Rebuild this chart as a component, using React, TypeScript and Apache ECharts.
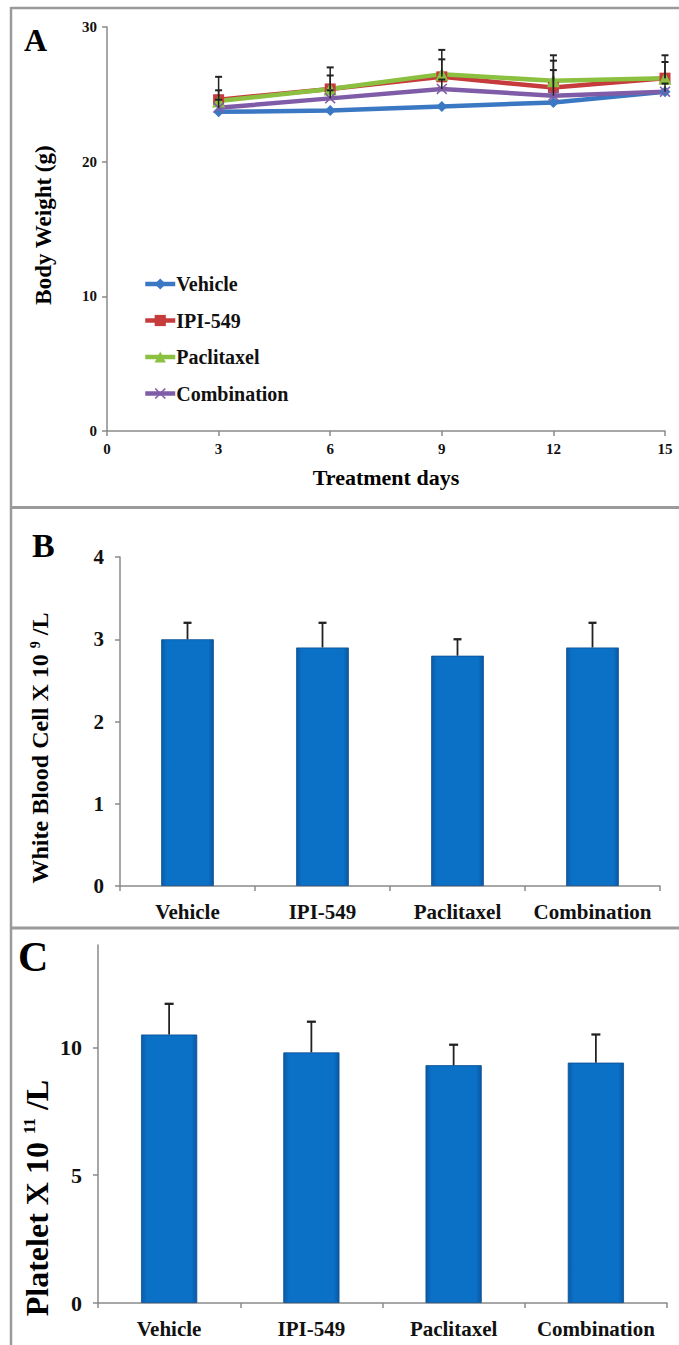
import React, { useEffect, useRef } from "react";
import * as echarts from "echarts";

const FONT = "'Liberation Serif', 'Times New Roman', serif";

// Panel A: body weight over treatment days
const days = [3, 6, 9, 12, 15];
const vehicleWeight = [23.7, 23.8, 24.1, 24.4, 25.2];
const ipiWeight = [24.6, 25.4, 26.3, 25.5, 26.2];
const paclitaxelWeight = [24.5, 25.4, 26.5, 26.0, 26.2];
const combinationWeight = [24.0, 24.7, 25.4, 24.9, 25.2];
const ipiWeightErr = [1.7, 1.6, 2.0, 2.4, 1.7];
const paclitaxelWeightErr = [0.8, 1.0, 1.1, 1.5, 1.2];
const combinationWeightErr = [0.6, 0.6, 0.7, 1.9, 0.6];
const seriesNames = ["Vehicle", "IPI-549", "Paclitaxel", "Combination"];
const seriesColors = ["#3B78C3", "#C63B3B", "#8BC040", "#7F5CA8"];

// Panel B / C: blood counts
const categories = ["Vehicle", "IPI-549", "Paclitaxel", "Combination"];
const wbcValues = [3.0, 2.9, 2.8, 2.9];
const wbcErrors = [0.2, 0.3, 0.2, 0.3];
const plateletValues = [10.5, 9.8, 9.3, 9.4];
const plateletErrors = [1.2, 1.2, 0.8, 1.1];

const xSymbol =
  "path://M0,1 L1,0 L5,4 L9,0 L10,1 L6,5 L10,9 L9,10 L5,6 L1,10 L0,9 L4,5 Z";
const symbols = ["diamond", "rect", "triangle", xSymbol];

function errRender(capHalf: number, width: number) {
  return (params: any, api: any) => {
    const x = api.value(0);
    const y = api.value(1);
    const e = api.value(2);
    const p0 = api.coord([x, y]);
    const p1 = api.coord([x, y + e]);
    return {
      type: "group",
      children: [
        {
          type: "line",
          shape: { x1: p0[0], y1: p0[1], x2: p1[0], y2: p1[1] },
          style: { stroke: "#222", lineWidth: width },
        },
        {
          type: "line",
          shape: { x1: p1[0] - capHalf, y1: p1[1], x2: p1[0] + capHalf, y2: p1[1] },
          style: { stroke: "#222", lineWidth: width + 0.5 },
        },
      ],
    };
  };
}

const axisLine = { show: true, lineStyle: { color: "#8a8a8a", width: 1.5 } };
const axisTick = { show: true, inside: false, length: 5, lineStyle: { color: "#8a8a8a", width: 1.5 } };
const lbl = (size: number, margin: number) => ({
  fontFamily: FONT,
  fontWeight: "bold",
  fontSize: size,
  color: "#111",
  margin,
});

export default function App() {
  const ref = useRef<HTMLDivElement>(null);
  useEffect(() => {
    if (!ref.current) return;
    const chart = echarts.init(ref.current, null, { renderer: "svg" });
    const barColor = new echarts.graphic.LinearGradient(0, 0, 1, 0, [
      { offset: 0, color: "#0C5BA6" },
      { offset: 0.1, color: "#0A71C7" },
      { offset: 0.9, color: "#0A71C7" },
      { offset: 1, color: "#0B58A2" },
    ]);
    const weights = [vehicleWeight, ipiWeight, paclitaxelWeight, combinationWeight];
    const lineSeries = weights.map((w, k) => ({
      name: seriesNames[k],
      type: "line",
      xAxisIndex: 0,
      yAxisIndex: 0,
      data: days.map((d, i) => [d, w[i]]),
      symbol: symbols[k],
      symbolSize: k === 2 ? 13 : 11,
      lineStyle: { width: 4.5, color: seriesColors[k] },
      itemStyle: { color: seriesColors[k] },
      z: 3,
    }));
    const weightErrs = [
      [ipiWeight, ipiWeightErr],
      [paclitaxelWeight, paclitaxelWeightErr],
      [combinationWeight, combinationWeightErr],
    ];
    const errSeriesA = weightErrs.map(([v, e]) => ({
      type: "custom",
      coordinateSystem: "cartesian2d",
      xAxisIndex: 0,
      yAxisIndex: 0,
      renderItem: errRender(3.5, 1.5),
      data: days.map((d, i) => [d, v[i], e[i]]),
      encode: { x: 0, y: 1 },
      z: 4,
    }));

    const option: any = {
      animation: false,
      backgroundColor: "#ffffff",
      grid: [
        { left: 107, right: 14, top: 27, bottom: 914, outerBoundsMode: "none" },
        { left: 120, right: 19, top: 557, bottom: 459, outerBoundsMode: "none" },
        { left: 98, right: 12, top: 945, bottom: 42, outerBoundsMode: "none" },
      ],
      legend: {
        data: seriesNames,
        orient: "vertical",
        left: 138,
        top: 269,
        itemWidth: 30,
        itemHeight: 14,
        itemGap: 16.5,
        lineStyle: { width: 4.5 },
        textStyle: { fontFamily: FONT, fontWeight: "bold", fontSize: 20, color: "#111", lineHeight: 20, padding: [0, 0, 0, -4] },
      },
      xAxis: [
        {
          gridIndex: 0,
          type: "value",
          min: 0,
          max: 15,
          interval: 3,
          axisLine,
          axisTick,
          splitLine: { show: false },
          axisLabel: lbl(15, 10),
        },
        {
          gridIndex: 1,
          type: "category",
          data: categories,
          axisLine,
          axisTick: { ...axisTick, alignWithLabel: false, interval: 0 },
          splitLine: { show: false },
          axisLabel: { ...lbl(21, 15), interval: 0 },
        },
        {
          gridIndex: 2,
          type: "category",
          data: categories,
          axisLine,
          axisTick: { ...axisTick, alignWithLabel: false, interval: 0 },
          splitLine: { show: false },
          axisLabel: { ...lbl(21, 15), interval: 0 },
        },
      ],
      yAxis: [
        {
          gridIndex: 0,
          type: "value",
          min: 0,
          max: 30,
          interval: 10,
          axisLine,
          axisTick,
          splitLine: { show: false },
          axisLabel: lbl(15, 10),
        },
        {
          gridIndex: 1,
          type: "value",
          min: 0,
          max: 4,
          interval: 1,
          axisLine,
          axisTick,
          splitLine: { show: false },
          axisLabel: lbl(21, 16),
        },
        {
          gridIndex: 2,
          type: "value",
          min: 0,
          max: 14,
          interval: 5,
          axisLine,
          axisTick: { ...axisTick, customValues: [0, 5, 10] },
          splitLine: { show: false },
          axisLabel: { ...lbl(22, 16), customValues: [0, 5, 10] },
        },
      ],
      series: [
        ...lineSeries,
        ...errSeriesA,
        {
          type: "bar",
          xAxisIndex: 1,
          yAxisIndex: 1,
          data: wbcValues,
          barWidth: "39%",
          itemStyle: { color: barColor, borderColor: "#0B4F93", borderWidth: 0.8 },
        },
        {
          type: "custom",
          coordinateSystem: "cartesian2d",
          xAxisIndex: 1,
          yAxisIndex: 1,
          renderItem: errRender(4, 1.8),
          data: categories.map((c, i) => [i, wbcValues[i], wbcErrors[i]]),
          encode: { x: 0, y: 1 },
          z: 4,
        },
        {
          type: "bar",
          xAxisIndex: 2,
          yAxisIndex: 2,
          data: plateletValues,
          barWidth: "39.5%",
          itemStyle: { color: barColor, borderColor: "#0B4F93", borderWidth: 0.8 },
        },
        {
          type: "custom",
          coordinateSystem: "cartesian2d",
          xAxisIndex: 2,
          yAxisIndex: 2,
          renderItem: errRender(4.5, 1.8),
          data: categories.map((c, i) => [i, plateletValues[i], plateletErrors[i]]),
          encode: { x: 0, y: 1 },
          z: 4,
        },
      ],
      graphic: [
        // panel frames
        { type: "line", shape: { x1: 11, y1: 8, x2: 679, y2: 8 }, style: { stroke: "#9a9a9a", lineWidth: 2.5 } },
        { type: "line", shape: { x1: 11, y1: 7, x2: 11, y2: 1345 }, style: { stroke: "#9a9a9a", lineWidth: 2.5 } },
        { type: "line", shape: { x1: 11, y1: 507.5, x2: 679, y2: 507.5 }, style: { stroke: "#9a9a9a", lineWidth: 3 } },
        { type: "line", shape: { x1: 11, y1: 928, x2: 679, y2: 928 }, style: { stroke: "#9a9a9a", lineWidth: 3 } },
        // panel letters
        { type: "text", left: 24, top: 24, style: { text: "A", font: `bold 32px ${FONT}`, fill: "#000" } },
        { type: "text", left: 32, top: 528, style: { text: "B", font: `bold 34px ${FONT}`, fill: "#000" } },
        { type: "text", left: 18, top: 936, style: { text: "C", font: `bold 42px ${FONT}`, fill: "#000" } },
        // axis titles
        {
          type: "text",
          x: 43,
          y: 225,
          rotation: Math.PI / 2,
          style: { text: "Body Weight (g)", font: `bold 23px ${FONT}`, fill: "#000", align: "center", verticalAlign: "middle" },
        },
        {
          type: "text",
          x: 386,
          y: 477,
          style: { text: "Treatment days", font: `bold 22px ${FONT}`, fill: "#000", align: "center", verticalAlign: "middle" },
        },
        {
          type: "text",
          x: 40,
          y: 748,
          rotation: Math.PI / 2,
          style: {
            text: "{m|White Blood Cell X 10 }{s|9}{m| /L}",
            align: "center",
            verticalAlign: "middle",
            rich: {
              m: { fontFamily: FONT, fontWeight: "bold", fontSize: 24, fill: "#000", color: "#000" },
              s: { fontFamily: FONT, fontWeight: "bold", fontSize: 14, fill: "#000", color: "#000", verticalAlign: "top" },
            },
          },
        },
        {
          type: "text",
          x: 37,
          y: 1198,
          rotation: Math.PI / 2,
          style: {
            text: "{m|Platelet X 10 }{s|11}{m| /L}",
            align: "center",
            verticalAlign: "middle",
            rich: {
              m: { fontFamily: FONT, fontWeight: "bold", fontSize: 32, fill: "#000", color: "#000" },
              s: { fontFamily: FONT, fontWeight: "bold", fontSize: 17, fill: "#000", color: "#000", verticalAlign: "top" },
            },
          },
        },
      ],
    };
    chart.setOption(option);
    return () => chart.dispose();
  }, []);
  return (
    <div
      ref={ref}
      style={{ position: "absolute", left: 0, top: 0, width: 679, height: 1345, background: "#fff" }}
    />
  );
}
